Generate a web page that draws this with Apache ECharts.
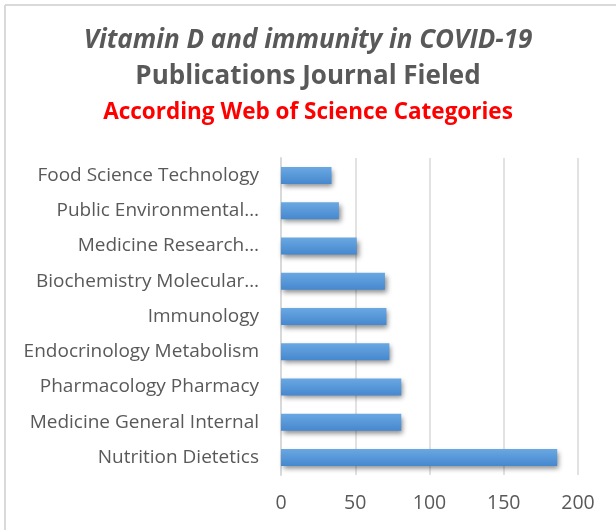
<!DOCTYPE html>
<html>
<head>
<meta charset="utf-8">
<script src="https://cdn.jsdelivr.net/npm/echarts@6/dist/echarts.min.js"></script>
<style>
  html, body { margin: 0; padding: 0; background: #fff; }
  #chart { width: 616px; height: 530px; }
</style>
</head>
<body>
<div id="chart"></div>
<script>
// categories listed bottom to top (echarts draws category axis from bottom)
var categories = [
  "Nutrition Dietetics",
  "Medicine General Internal",
  "Pharmacology Pharmacy",
  "Endocrinology Metabolism",
  "Immunology",
  "Biochemistry Molecular…",
  "Medicine Research…",
  "Public Environmental…",
  "Food Science Technology"
];
var counts = [186, 81, 81, 73, 71, 70, 51, 39, 34];
var xTicks = [0, 50, 100, 150, 200];

var myChart = echarts.init(document.getElementById("chart"));
var option = {
  backgroundColor: "#fff",
  animation: false,
  graphic: [
    // chart border (left + top)
    { type: "line", shape: { x1: 5, y1: 5, x2: 5, y2: 530 }, style: { stroke: "#d9d9d9", lineWidth: 2 } },
    { type: "line", shape: { x1: 5, y1: 5, x2: 616, y2: 5 }, style: { stroke: "#d9d9d9", lineWidth: 2 } },
    {
      type: "text", left: "center", top: 28,
      style: { text: "Vitamin D and immunity in COVID-19", font: "italic bold 26px 'Open Sans'", fill: "#595959" }
    },
    {
      type: "text", left: "center", top: 64,
      style: { text: "Publications Journal Fieled", font: "bold 26px 'Open Sans'", fill: "#595959" }
    },
    {
      type: "text", left: "center", top: 101,
      style: { text: "According Web of Science Categories", font: "bold 22.5px 'Open Sans'", fill: "#ff0000" }
    }
  ],
  grid: { left: 281, right: 38, top: 158, bottom: 55, containLabel: false },
  xAxis: {
    type: "value",
    min: xTicks[0],
    max: xTicks[xTicks.length - 1],
    interval: 50,
    axisLine: { show: false },
    axisTick: { show: false },
    axisLabel: { color: "#595959", fontSize: 19.5, fontFamily: "Open Sans", margin: 18 },
    splitLine: { show: true, lineStyle: { color: "#d9d9d9", width: 1.5 } }
  },
  yAxis: {
    type: "category",
    data: categories,
    axisLine: { show: true, lineStyle: { color: "#d9d9d9", width: 2 } },
    axisTick: { show: false },
    axisLabel: { color: "#595959", fontSize: 19, fontFamily: "Open Sans", margin: 22 }
  },
  series: [
    {
      type: "bar",
      data: counts,
      barWidth: 17,
      itemStyle: {
        color: new echarts.graphic.LinearGradient(0, 0, 0, 1, [
          { offset: 0, color: "#6aa8e2" },
          { offset: 1, color: "#4688cf" }
        ]),
        shadowColor: "rgba(0,0,0,0.45)",
        shadowBlur: 5,
        shadowOffsetX: 2,
        shadowOffsetY: 3
      }
    }
  ]
};

option && myChart.setOption(option);
</script>
</body>
</html>
